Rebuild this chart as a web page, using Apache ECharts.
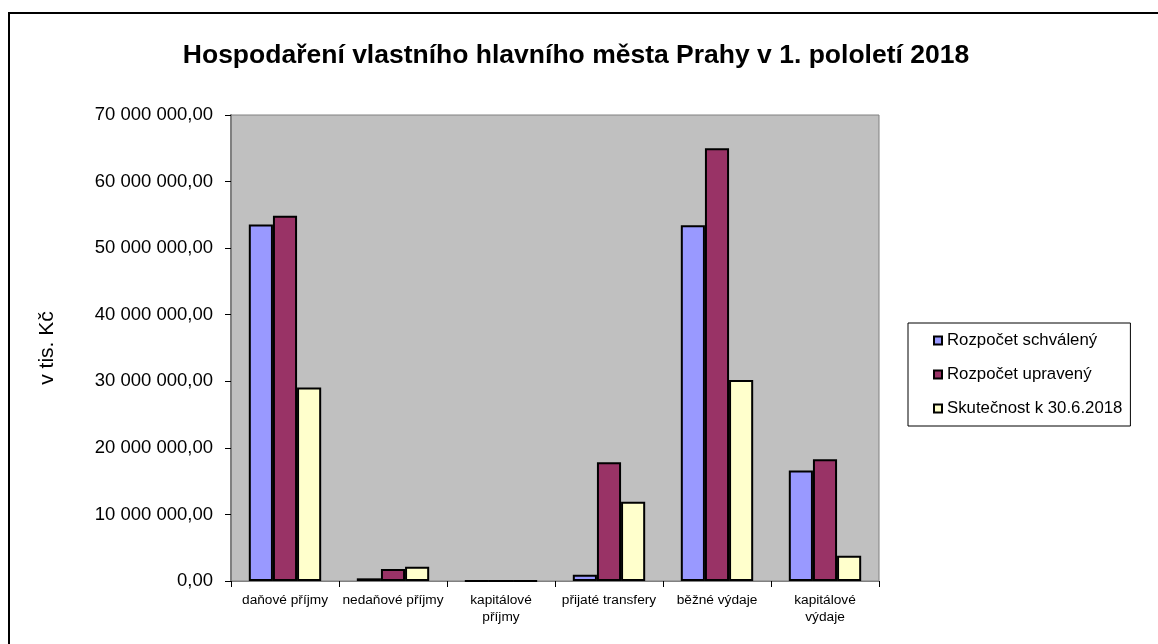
<!DOCTYPE html>
<html><head><meta charset="utf-8">
<script src="https://cdn.jsdelivr.net/npm/echarts@6/dist/echarts.min.js"></script>
<style>
html,body{margin:0;padding:0;background:#fff;overflow:hidden}
#frame{position:absolute;left:8px;top:12px;width:1200px;height:700px;border-top:2px solid #000;border-left:2px solid #000}
#c{position:absolute;left:0;top:0;width:1158px;height:644px}
</style></head><body>
<div id="frame"></div>
<div id="c"></div>
<script>
const categories = ['daňové příjmy','nedaňové příjmy','kapitálové\npříjmy','přijaté transfery','běžné výdaje','kapitálové\nvýdaje'];
const seriesNames = ['Rozpočet schválený','Rozpočet upravený','Skutečnost k 30.6.2018'];
const schvaleny = [53560000, 400000, 0, 950000, 53450000, 16600000];
const upraveny  = [54850000, 1800000, 0, 17820000, 65000000, 18300000];
const skutecnost = [29080000, 2150000, 0, 11900000, 30200000, 3800000];
const colors = ['#9999FF','#993366','#FFFFCC'];

function fmt(v){
  const s = Math.round(v).toString().replace(/\B(?=(\d{3})+(?!\d))/g,' ');
  return s + ',00';
}
const chart = echarts.init(document.getElementById('c'));
const data = [schvaleny, upraveny, skutecnost];
chart.setOption({
  animation:false,
  textStyle:{fontFamily:'Liberation Sans, Arial, sans-serif'},
  title:{text:'Hospodaření vlastního hlavního města Prahy v 1. pololetí 2018',left:571,textAlign:'center',top:37,
    textStyle:{fontSize:26.5,fontWeight:'bold',color:'#000',fontFamily:'Liberation Sans, Arial, sans-serif'}},
  grid:{left:231,top:115,width:648,height:466,show:true,backgroundColor:'#C0C0C0',borderColor:'#808080',borderWidth:1},
  legend:{orient:'vertical',left:908,top:323,
    padding:[9,8,9,25],itemGap:17,itemWidth:8,itemHeight:8,icon:'rect',
    borderColor:'#000',borderWidth:1,
    textStyle:{fontSize:16.8,color:'#000',padding:[0,0,0,0]},
    data:seriesNames},
  xAxis:{type:'category',data:categories,
    axisLine:{lineStyle:{color:'#808080',width:1}},
    axisTick:{show:true,length:6,lineStyle:{color:'#000'}},
    axisLabel:{fontSize:13.7,color:'#000',interval:0,margin:11,lineHeight:17},
    splitLine:{show:false}},
  yAxis:{type:'value',min:0,max:70000000,interval:10000000,
    name:'v tis. Kč',nameLocation:'middle',nameGap:173,nameRotate:90,
    nameTextStyle:{fontSize:21,color:'#000'},
    axisLine:{show:true,lineStyle:{color:'#808080',width:2}},
    axisTick:{show:true,length:6,lineStyle:{color:'#000'}},
    axisLabel:{fontSize:18.5,color:'#000',margin:18,formatter:fmt},
    splitLine:{show:false}},
  series: seriesNames.map((n,i)=>({
    name:n,type:'bar',data:data[i],barGap:'0%',barCategoryGap:'33%',
    itemStyle:{color:colors[i],borderColor:'#000',borderWidth:2}
  }))
});
</script>
</body></html>
